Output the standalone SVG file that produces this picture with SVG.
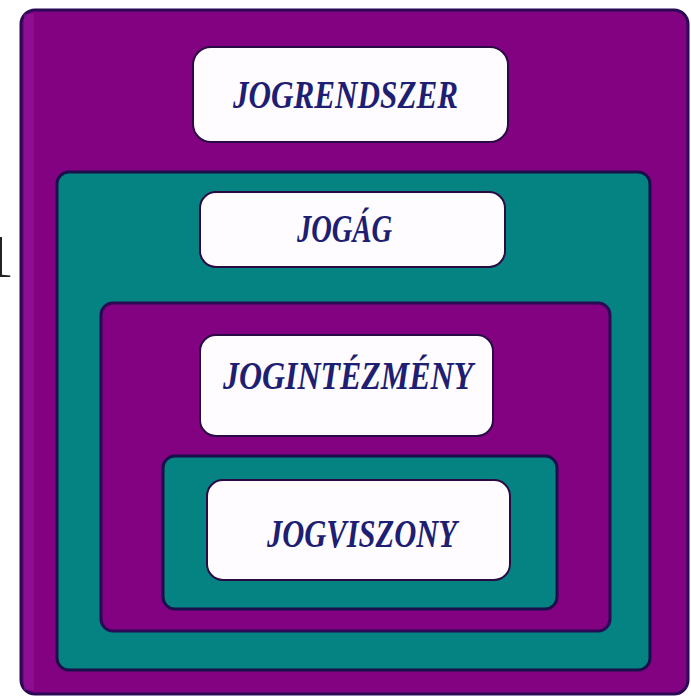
<svg xmlns="http://www.w3.org/2000/svg" width="691" height="698" viewBox="0 0 691 698">
  <style>
    .purple { fill: #820282; stroke: #2a0a55; stroke-width: 3; }
    .teal { fill: #058383; stroke: #1a0f4a; stroke-width: 3; }
    .box { fill: #fefcff; stroke: #2a0a45; stroke-width: 2; }
    .lbl { font-family: "Liberation Serif", "DejaVu Serif", serif; font-style: italic; font-weight: bold; font-size: 40px; fill: #1e1e72; }
  </style>
  <rect x="0" y="0" width="691" height="698" fill="#ffffff"/>
  <text x="-17" y="277" font-family="Liberation Serif, serif" font-size="62" fill="#222222">1</text>

  <g id="jogrendszer">
    <rect class="purple" x="21" y="10" width="667" height="684" rx="14"/>
    <rect x="24" y="14" width="10" height="676" fill="#9a1aa0" opacity="0.5"/>
    <rect class="box" x="193" y="47" width="315" height="95" rx="18"/>
    <text class="lbl" x="233" y="108" textLength="225" lengthAdjust="spacingAndGlyphs">JOGRENDSZER</text>
  </g>

  <g id="jogag">
    <rect class="teal" x="57" y="172" width="593" height="498" rx="12"/>
    <rect class="box" x="200" y="192" width="305" height="75" rx="16"/>
    <text class="lbl" x="297" y="242" textLength="95" lengthAdjust="spacingAndGlyphs">JOGÁG</text>
  </g>

  <g id="jogintezmeny">
    <rect class="purple" x="101" y="303" width="509" height="328" rx="12"/>
    <rect class="box" x="200" y="335" width="293" height="101" rx="16"/>
    <text class="lbl" x="223" y="389" textLength="250" lengthAdjust="spacingAndGlyphs">JOGINTÉZMÉNY</text>
  </g>

  <g id="jogviszony">
    <rect class="teal" x="163" y="456" width="394" height="153" rx="12"/>
    <rect class="box" x="207" y="480" width="303" height="100" rx="16"/>
    <text class="lbl" x="267" y="547" textLength="190" lengthAdjust="spacingAndGlyphs">JOGVISZONY</text>
  </g>

  <g id="connectors"/>
</svg>
